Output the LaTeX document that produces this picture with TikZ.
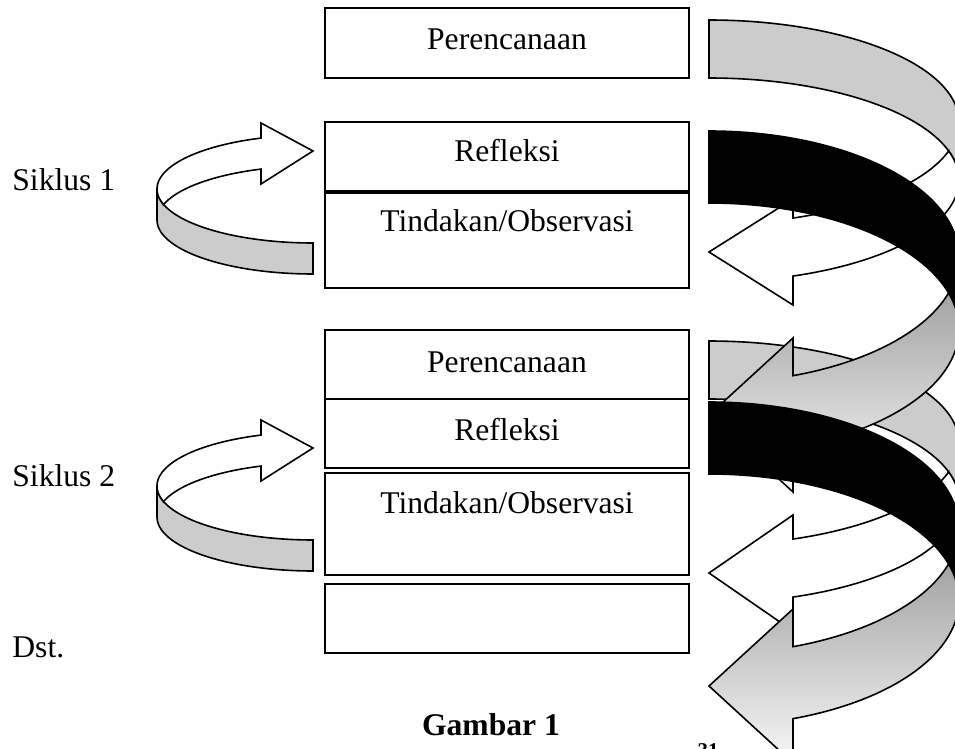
\documentclass[tikz,border=0pt]{standalone}
\usepackage{fontspec}
\setmainfont{Liberation Serif}
\newcommand\rbandback[4]{%
  \path[#4] plot[variable=\t,domain=-90:0,samples=60] ({709+250*cos(\t)},{#1+#3*sin(\t)})
    -- plot[variable=\t,domain=0:-90,samples=60] ({709+250*cos(\t)},{#2+#3*sin(\t)}) -- cycle;}
\newcommand\rbandfront[7]{%
  \pgfmathsetmacro\rtA{acos(84/250)}%
  \pgfmathsetmacro\rtB{asin((#2-#1)/(2*#3))}%
  \path[#7] plot[variable=\t,domain=\rtB:\rtA,samples=50] ({709+250*cos(\t)},{#1+#3*sin(\t)})
    -- (793,#5) -- (709,#4) -- (793,#6)
    -- plot[variable=\t,domain=\rtA:-\rtB,samples=60] ({709+250*cos(\t)},{#2+#3*sin(\t)}) -- cycle;}
\newcommand\lbandback[2]{%
  \path[backgray] plot[variable=\t,domain=180:90,samples=50] ({313+156*cos(\t)},{#1+54*sin(\t)})
    -- plot[variable=\t,domain=90:180,samples=50] ({313+156*cos(\t)},{#2+54*sin(\t)}) -- cycle;}
\newcommand\lbandfront[5]{%
  \pgfmathsetmacro\ltC{180+acos(52/156)}%
  \pgfmathsetmacro\ltD{180+asin((#2-#1)/108)}%
  \pgfmathsetmacro\ltE{360-\ltD}%
  \path[frontwhite] plot[variable=\t,domain=180:\ltC,samples=50] ({313+156*cos(\t)},{#1+54*sin(\t)})
    -- (261,#4) -- (313,#3) -- (261,#5)
    -- plot[variable=\t,domain=\ltC:\ltD,samples=50] ({313+156*cos(\t)},{#2+54*sin(\t)})
    -- plot[variable=\t,domain=\ltE:180,samples=20] ({313+156*cos(\t)},{#1+54*sin(\t)}) -- cycle;}
\begin{document}
\begin{tikzpicture}[x=0.5pt,y=-0.5pt]
\tikzset{
  boxline/.style={draw=black,line width=1pt},
  lbl/.style={anchor=base,inner sep=0pt,font=\fontsize{15.8}{19}\selectfont},
  lbll/.style={anchor=base west,inner sep=0pt,font=\fontsize{15.8}{19}\selectfont},
  outl/.style={draw=black,line width=0.8pt},
  backgray/.style={outl,fill=gray!40},
  backblack/.style={outl,fill=black},
  frontwhite/.style={outl,fill=white},
  frontgrad/.style={outl,top color=black!36,bottom color=black!3},
}
\useasboundingbox (0,0) rectangle (955,749);
\clip (0,0) rectangle (955,749);
% boxes
\draw[boxline] (325,8) rectangle (689,78);
\draw[boxline] (325,122) rectangle (689,191);
\draw[boxline] (325,193) rectangle (689,288);
\draw[boxline] (325,330) rectangle (689,399);
\draw[boxline] (325,399.5) rectangle (689,468);
\draw[boxline] (325,473) rectangle (689,575);
\draw[boxline] (325,584) rectangle (689,653);
% box texts
\node[lbl] (p1) at (507,50) {Perencanaan};
\node[lbl] (r1) at (507,162) {Refleksi};
\node[lbl] (t1) at (507,232) {Tindakan/Observasi};
\node[lbl] (p2) at (507,372) {Perencanaan};
\node[lbl] (r2) at (507,440) {Refleksi};
\node[lbl] (t2) at (507,513) {Tindakan/Observasi};
% side labels
\node[lbll] (s1) at (12,191) {Siklus 1};
\node[lbll] (s2) at (12,487) {Siklus 2};
\node[lbll] (dst) at (12,657) {Dst.};
% left curved arrows
\lbandback{189}{220}
\lbandfront{189}{220}{151}{123}{184}
\lbandback{486}{517}
\lbandfront{486}{517}{448}{420}{481}
% right curved arrows
\rbandback{122}{180}{102}{backgray}
\rbandfront{122}{180}{102}{252}{199}{305}{frontwhite}
\rbandback{257}{329}{126}{backblack}
\rbandback{443}{501}{102}{backgray}
\rbandfront{257}{329}{126}{415}{338}{492}{frontgrad}
\rbandfront{443}{501}{102}{573}{515}{631}{frontwhite}
\rbandback{528}{600}{126}{backblack}
\rbandfront{528}{600}{126}{686}{609}{763}{frontgrad}
% caption
\node[lbl,font=\fontsize{15.8}{19}\selectfont\bfseries] (cap) at (491,735) {Gambar 1};
\node[anchor=north,inner sep=0pt,font=\fontsize{10.5}{12}\selectfont\bfseries] (fn) at (708,743) {31};
\end{tikzpicture}
\end{document}
